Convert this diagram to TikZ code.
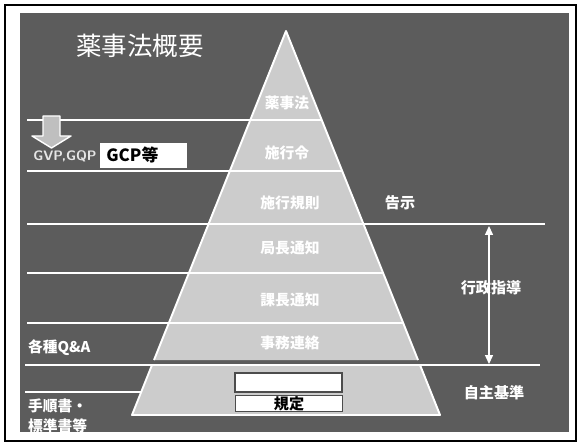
\documentclass[tikz,border=0pt]{standalone}
\usepackage{fontspec}
\newfontfamily\cjk{Noto Sans CJK JP}
\usetikzlibrary{arrows.meta}
\definecolor{panelgray}{gray}{0.36}
\definecolor{pyrgray}{gray}{0.80}
\definecolor{arrgray}{gray}{0.75}
\tikzset{
  wline/.style={white, line width=1.1pt},
  thinline/.style={white, line width=0.6pt},
  pyrlabel/.style={text=white, font=\cjk\bfseries\fontsize{8.4}{10}\selectfont, inner sep=1pt},
  sidelabel/.style={text=white, font=\cjk\bfseries\fontsize{8.6}{10}\selectfont, inner sep=1pt},
  leftlabel/.style={text=white, font=\cjk\bfseries\fontsize{8.4}{11}\selectfont, inner sep=1pt, anchor=west, align=left},
  boxwhite/.style={fill=white, draw=black!70, line width=0.6pt},
}
\begin{document}
\begin{tikzpicture}[x=0.02cm, y=-0.02cm]
\useasboundingbox (0,0) rectangle (580,445);
\fill[white] (0,0) rectangle (580,445);
\draw[black, line width=0.8pt] (5,5) rectangle (576,441);
\fill[panelgray] (20,13) rectangle (569,432);
% pyramid (upper part)
\fill[pyrgray] (286,31) -- (418,360) -- (154,360) -- cycle;
% bottom trapezoid
\fill[pyrgray] (152,365) -- (420,365) -- (440,415) -- (132,415) -- cycle;
% horizontal lines
\draw[wline] (27,120) -- (321.7,120);
\draw[thinline] (27,171) -- (342.2,171);
\draw[wline] (27,224) -- (545,224);
\draw[thinline] (27,273) -- (383,273);
\draw[thinline] (27,323) -- (403,323);
\draw[thinline] (25,365) -- (540,365);
\draw[thinline] (25,392) -- (141,392);
% pyramid outlines
\draw[white, line width=1.1pt, line join=round] (154,360) -- (286,31) -- (418,360);
\draw[white, line width=1.1pt, line join=round] (152,365) -- (132,415) -- (440,415) -- (420,365);
% title
\node[text=white, font=\cjk\fontsize{14.5}{17}\selectfont, anchor=west] (title) at (70,46) {薬事法概要};
% pyramid labels
\node[pyrlabel] (l1) at (287,103) {薬事法};
\node[pyrlabel] (l2) at (287,153) {施行令};
\node[pyrlabel] (l3) at (290,203) {施行規則};
\node[pyrlabel] (l4) at (290,248) {局長通知};
\node[pyrlabel] (l5) at (290,300) {課長通知};
\node[pyrlabel] (l6) at (290,343) {事務連絡};
% bottom boxes
\draw[boxwhite] (235,373) rectangle (342,392);
\node[boxwhite, minimum width=107*0.02cm, minimum height=16*0.02cm, inner sep=0pt, anchor=north west,
  font=\cjk\bfseries\fontsize{8.6}{10}\selectfont] (kitei) at (235,395) {規定};
% block arrow
\draw[white, fill=arrgray, line width=0.8pt, line join=round]
  (43,116) -- (60,116) -- (60,136) -- (71,136) -- (51.5,148) -- (32,136) -- (43,136) -- cycle;
% GVP, GQP and GCP box
\node[text=gray!20, font=\sffamily\bfseries\fontsize{7.8}{9}\selectfont, anchor=west, inner sep=0pt] (gvp) at (33,156) {GVP,GQP};
\node[fill=white, minimum width=87*0.02cm, minimum height=25*0.02cm, anchor=north west, inner sep=0pt] (gcpbox) at (100,143) {};
\node[font=\cjk\bfseries\fontsize{9.6}{11}\selectfont, anchor=west, inner sep=0pt] (gcp) at (106,155.5) {GCP等};
% right side labels
\node[sidelabel] (kokuji) at (400,203) {告示};
\coordinate (atop) at (489,226);
\coordinate (abot) at (489,364);
\draw[white, line width=0.6pt, {Triangle[width=4.5pt,length=5pt]}-{Triangle[width=4.5pt,length=5pt]}] (atop) -- (abot);
\node[sidelabel] (gyosei) at (491,288) {行政指導};
\node[sidelabel] (jishu) at (494,393) {自主基準};
% left labels
\node[leftlabel] (qa) at (26,348) {各種Q\&A};
\node[leftlabel] (tejun) at (26,416) {手順書・\\標準書等};
\end{tikzpicture}
\end{document}
